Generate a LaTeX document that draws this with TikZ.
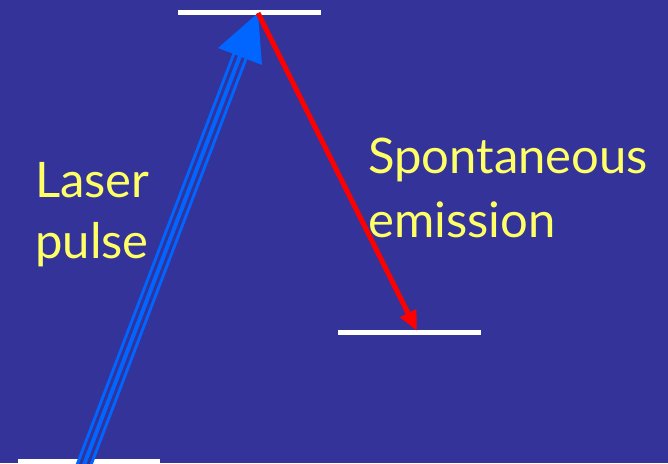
\documentclass[tikz,border=0pt]{standalone}
\usepackage{fontspec}
\setmainfont{Lato}
\usetikzlibrary{arrows.meta}
\definecolor{slidebg}{RGB}{51,51,153}
\definecolor{pulseblue}{RGB}{0,102,255}
\definecolor{textyellow}{RGB}{255,255,102}

\begin{document}
\begin{tikzpicture}[x=1pt, y=-1pt,
    energylevel/.style={white, line width=5pt},
    slidetext/.style={textyellow, font=\fontsize{49}{61}\selectfont, inner sep=0pt, anchor=base west}]
  \fill[slidebg] (0,0) rectangle (668,463);
  \useasboundingbox (0,0) rectangle (668,463);

  % energy levels
  \coordinate (upperL) at (178,12);
  \coordinate (upperR) at (321,12);
  \coordinate (middleL) at (338,332);
  \coordinate (middleR) at (481,332);
  \coordinate (lowerL) at (18,461);
  \coordinate (lowerR) at (160,461);
  \draw[energylevel] (upperL) -- (upperR);
  \draw[energylevel] (middleL) -- (middleR);
  \draw[energylevel] (lowerL) -- (lowerR);

  % laser pulse, three lines and a head
  \coordinate (pulsestart) at (79,478);
  \coordinate (pulsebase) at (240,56);
  \coordinate (excited) at (258,13);
  \begin{scope}
    \clip (0,0) rectangle (668,463);
    \draw[pulseblue, line width=16pt] (pulsestart) -- (pulsebase);
    \draw[slidebg, line width=10pt] (pulsestart) -- (pulsebase);
    \draw[pulseblue, line width=4pt] (pulsestart) -- (pulsebase);
  \end{scope}
  \fill[pulseblue] (excited) -- (218,48) -- (262,65) -- cycle;

  % spontaneous emission
  \coordinate (decay) at (417,331);
  \draw[red, line width=5pt, -{Triangle[length=20pt, width=17pt]}] (excited) -- (decay);

  \node[slidetext] (laser) at (35,197) {Laser};
  \node[slidetext] (pulse) at (35,258) {pulse};
  \node[slidetext] (spont) at (368,173) {Spontaneous};
  \node[slidetext] (emission) at (368,237) {emission};
\end{tikzpicture}
\end{document}
